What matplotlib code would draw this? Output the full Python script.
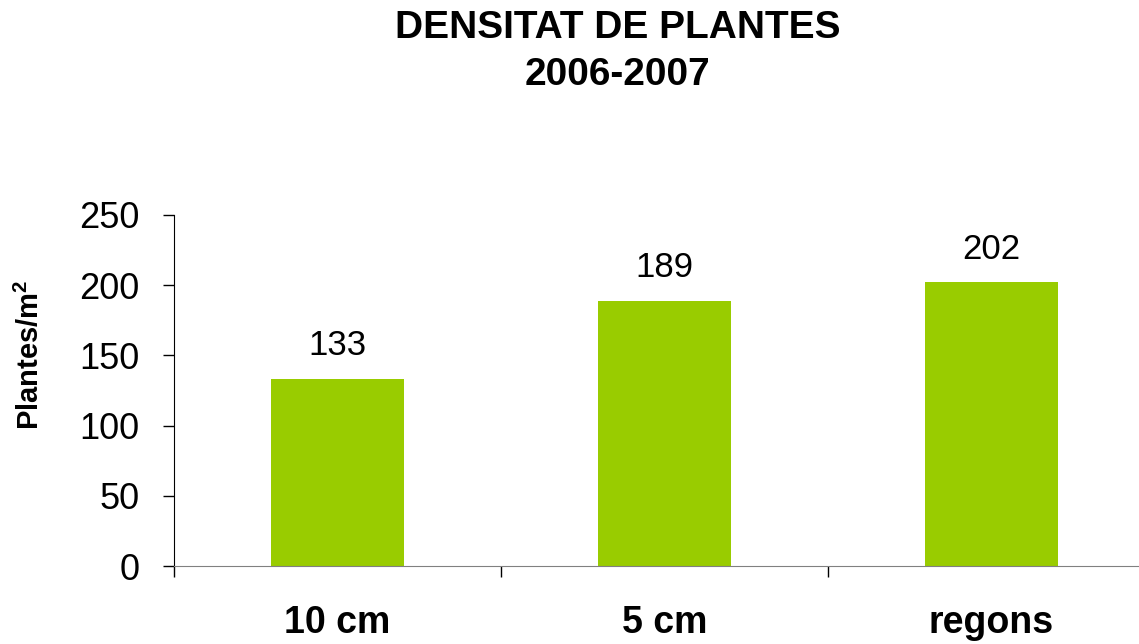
import matplotlib.pyplot as plt

plt.rcParams['font.family'] = ['Liberation Sans', 'DejaVu Sans']
plt.rcParams['mathtext.fontset'] = 'custom'
plt.rcParams['mathtext.bf'] = 'Liberation Sans:bold'
plt.rcParams['mathtext.rm'] = 'Liberation Sans'

# data
categories = ['10 cm', '5 cm', 'regons']
values = [133, 189, 202]
title_lines = ['DENSITAT DE PLANTES', '2006-2007']
ylabel = r'Plantes/m$^{\mathbf{2}}$'
yticks = [0, 50, 100, 150, 200, 250]

W, H = 1139, 644
fig = plt.figure(figsize=(W / 100, H / 100), dpi=100)
# axes reaches past the right edge like the original
ax = fig.add_axes([174 / W, 1 - 566 / H, (1155 - 174) / W, (566 - 215) / H])

x = [i + 0.5 for i in range(len(categories))]
ax.bar(x, values, width=0.404, color='#99CC00', zorder=2)

for xi, v in zip(x, values):
    ax.annotate(str(v), (xi, v), xytext=(0, 24), textcoords='offset points',
                ha='center', va='center', fontsize=25)

ax.set_xlim(0, 3)
ax.set_ylim(0, 250)
ax.set_yticks(yticks)
ax.tick_params(axis='y', length=8, width=1, direction='out', labelsize=26, pad=17)

# category labels between boundary ticks
ax.set_xticks(x, categories, fontsize=27, fontweight='bold')
ax.tick_params(axis='x', which='major', length=0, pad=28)
ax.set_xticks([0, 1, 2, 3], minor=True)
ax.tick_params(axis='x', which='minor', length=8, width=1, direction='out')

for s in ['top', 'right']:
    ax.spines[s].set_visible(False)
ax.spines['left'].set_color('black')
ax.spines['bottom'].set_color('#808080')
ax.spines['bottom'].set_zorder(3)

fig.text(30 / W, 1 - 355 / H, ylabel, rotation=90, ha='center', va='center',
         fontsize=21, fontweight='bold')

fig.text(618 / W, 1 - 28 / H, title_lines[0], ha='center', va='center',
         fontsize=28, fontweight='bold')
fig.text(618 / W, 1 - 75 / H, title_lines[1], ha='center', va='center',
         fontsize=28, fontweight='bold')

fig.savefig('out.png', dpi=100)
